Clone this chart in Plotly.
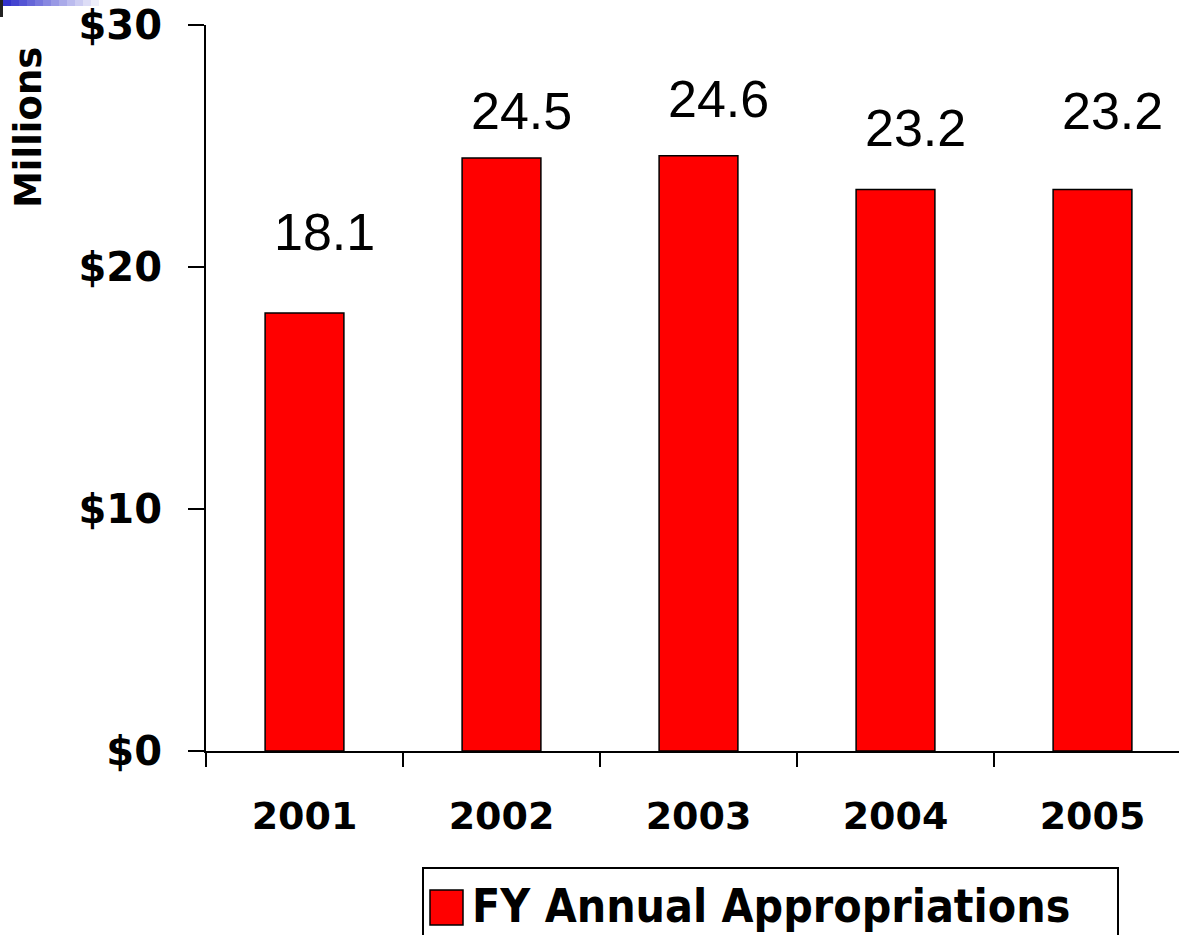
import plotly.graph_objects as go

# ---- data ----
years = ["2001", "2002", "2003", "2004", "2005"]
appropriations = [18.1, 24.5, 24.6, 23.2, 23.2]
value_labels = ["18.1", "24.5", "24.6", "23.2", "23.2"]
y_tick_vals = [0, 10, 20, 30]
y_tick_text = ["$0", "$10", "$20", "$30"]
series_name = "FY Annual Appropriations"
y_title = "Millions"

# ---- styles / layout geometry (pixels) ----
W, H = 1179, 935
L, R, T, B = 206, 0, 25, 184
label_yshift = [81, 47, 57, 62, 79]
label_xshift = 20

PW = W - L - R
PH = H - T - B


def px(x):
    return (x - L) / PW


def py(y):
    return (H - B - y) / PH


fig = go.Figure()
fig.add_trace(go.Bar(
    x=years, y=appropriations, name=series_name,
    marker=dict(color="#FF0000", line=dict(color="#000000", width=1.5)),
    width=0.4, showlegend=False,
))

annotations = []
for i, (v, t) in enumerate(zip(appropriations, value_labels)):
    annotations.append(dict(
        x=i, y=v, xref="x", yref="y", text=t, showarrow=False,
        xanchor="center", yanchor="middle",
        xshift=label_xshift, yshift=label_yshift[i],
        font=dict(family="Liberation Sans, Arial, sans-serif", size=52, color="#000000"),
    ))

# y title
annotations.append(dict(
    x=px(28), y=py(128), xref="paper", yref="paper", text=y_title,
    showarrow=False, textangle=-90, xanchor="center", yanchor="middle",
    font=dict(family="DejaVu Sans, sans-serif", size=37, color="#000000", weight="bold"),
))

# legend text
annotations.append(dict(
    x=px(470), y=py(906), xref="paper", yref="paper", text=series_name,
    showarrow=False, xanchor="left", yanchor="middle",
    font=dict(family="DejaVu Sans Condensed, sans-serif",
              size=46, color="#000000", weight="bold"),
))

shapes = [
    # legend box
    dict(type="rect", xref="paper", yref="paper",
         x0=px(423), x1=px(1118), y0=py(868), y1=py(960),
         line=dict(color="#000000", width=2), fillcolor="rgba(0,0,0,0)"),
    # legend swatch
    dict(type="rect", xref="paper", yref="paper",
         x0=px(430), x1=px(463), y0=py(890), y1=py(925),
         line=dict(color="#000000", width=1.5), fillcolor="#FF0000"),
    # decoration: dark corner block
    dict(type="rect", xref="paper", yref="paper",
         x0=px(0), x1=px(3), y0=py(0), y1=py(17),
         line=dict(width=0), fillcolor="#222222"),
]
# decoration: blue gradient strip
steps = 12
for k in range(steps):
    f = k / steps
    r = int(0x33 + (255 - 0x33) * f)
    g = int(0x33 + (255 - 0x33) * f)
    b = int(0xCC + (255 - 0xCC) * f)
    shapes.append(dict(type="rect", xref="paper", yref="paper",
                       x0=px(3 + k * 8), x1=px(3 + (k + 1) * 8), y0=py(0), y1=py(6),
                       line=dict(width=0), fillcolor=f"rgb({r},{g},{b})"))

fig.update_layout(
    width=W, height=H,
    margin=dict(l=L, r=R, t=T, b=B, pad=0),
    paper_bgcolor="#FFFFFF", plot_bgcolor="#FFFFFF",
    bargap=0.6,
    annotations=annotations, shapes=shapes,
    showlegend=False,
)
fig.update_xaxes(
    type="category", range=[-0.5, -0.5 + PW / 197.0],
    showline=True, linecolor="#000000", linewidth=2,
    ticks="outside", tickson="boundaries", ticklen=14, tickwidth=2, tickcolor="#000000",
    showgrid=False, zeroline=False,
    tickfont=dict(family="DejaVu Sans, sans-serif", size=38, color="#000000", weight="bold"),
    ticklabelstandoff=30,
)
fig.update_yaxes(
    range=[0, 30], tickvals=y_tick_vals, ticktext=y_tick_text,
    showline=True, linecolor="#000000", linewidth=2,
    ticks="outside", ticklen=16, tickwidth=2, tickcolor="#000000",
    showgrid=False, zeroline=False,
    tickfont=dict(family="DejaVu Sans, sans-serif", size=40, color="#000000", weight="bold"),
    ticklabelstandoff=18,
)

fig.write_html("out.html", config={"displayModeBar": False},
               post_script="document.body.style.margin='0px';")
